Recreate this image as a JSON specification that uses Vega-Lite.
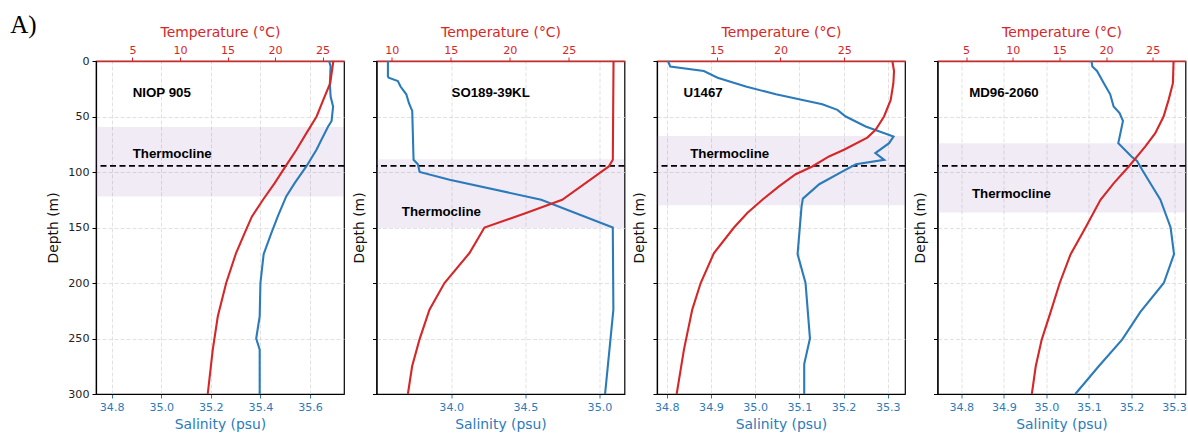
{
  "$schema": "https://vega.github.io/schema/vega-lite/v6.json",
  "padding": {"left": 10, "top": 13, "right": 0, "bottom": 0},
  "title": {"text": "A)", "anchor": "start", "frame": "bounds", "font": "Liberation Serif", "fontSize": 25, "fontWeight": "normal", "color": "black", "dx": -36, "offset": -14},
  "bounds": "flush",
  "spacing": 32.5,
  "datasets": {
    "bands": [
      {"site": "NIOP 905", "top": 59.5, "bottom": 122, "thermo": 94.5},
      {"site": "SO189-39KL", "top": 88.5, "bottom": 150.5, "thermo": 94.5},
      {"site": "U1467", "top": 67.5, "bottom": 130, "thermo": 94.5},
      {"site": "MD96-2060", "top": 74, "bottom": 136.5, "thermo": 94.5}
    ],
    "labels": [
      {"site": "NIOP 905", "label": "NIOP 905", "sal": 34.885, "depth": 29},
      {"site": "NIOP 905", "label": "Thermocline", "sal": 34.885, "depth": 84},
      {"site": "SO189-39KL", "label": "SO189-39KL", "sal": 34.002, "depth": 29},
      {"site": "SO189-39KL", "label": "Thermocline", "sal": 33.667, "depth": 136},
      {"site": "U1467", "label": "U1467", "sal": 34.838, "depth": 29},
      {"site": "U1467", "label": "Thermocline", "sal": 34.853, "depth": 84},
      {"site": "MD96-2060", "label": "MD96-2060", "sal": 34.8185, "depth": 29},
      {"site": "MD96-2060", "label": "Thermocline", "sal": 34.825, "depth": 120}
    ],
    "salinity": [
      {"site": "NIOP 905", "depth": 0, "sal": 35.677},
      {"site": "NIOP 905", "depth": 5, "sal": 35.683},
      {"site": "NIOP 905", "depth": 20, "sal": 35.68},
      {"site": "NIOP 905", "depth": 32, "sal": 35.683},
      {"site": "NIOP 905", "depth": 41, "sal": 35.693},
      {"site": "NIOP 905", "depth": 54, "sal": 35.687},
      {"site": "NIOP 905", "depth": 59, "sal": 35.673},
      {"site": "NIOP 905", "depth": 71, "sal": 35.646},
      {"site": "NIOP 905", "depth": 80, "sal": 35.626},
      {"site": "NIOP 905", "depth": 95, "sal": 35.585},
      {"site": "NIOP 905", "depth": 110, "sal": 35.538},
      {"site": "NIOP 905", "depth": 122, "sal": 35.504},
      {"site": "NIOP 905", "depth": 140, "sal": 35.47},
      {"site": "NIOP 905", "depth": 155, "sal": 35.444},
      {"site": "NIOP 905", "depth": 174, "sal": 35.413},
      {"site": "NIOP 905", "depth": 200, "sal": 35.4},
      {"site": "NIOP 905", "depth": 230, "sal": 35.397},
      {"site": "NIOP 905", "depth": 250, "sal": 35.383},
      {"site": "NIOP 905", "depth": 260, "sal": 35.397},
      {"site": "NIOP 905", "depth": 300, "sal": 35.397},
      {"site": "SO189-39KL", "depth": 0, "sal": 33.573},
      {"site": "SO189-39KL", "depth": 14, "sal": 33.573},
      {"site": "SO189-39KL", "depth": 15, "sal": 33.578},
      {"site": "SO189-39KL", "depth": 18, "sal": 33.64},
      {"site": "SO189-39KL", "depth": 23, "sal": 33.658},
      {"site": "SO189-39KL", "depth": 30, "sal": 33.697},
      {"site": "SO189-39KL", "depth": 38, "sal": 33.715},
      {"site": "SO189-39KL", "depth": 45, "sal": 33.737},
      {"site": "SO189-39KL", "depth": 89, "sal": 33.746},
      {"site": "SO189-39KL", "depth": 93, "sal": 33.775},
      {"site": "SO189-39KL", "depth": 100, "sal": 33.787},
      {"site": "SO189-39KL", "depth": 107, "sal": 33.989},
      {"site": "SO189-39KL", "depth": 125, "sal": 34.607},
      {"site": "SO189-39KL", "depth": 150, "sal": 35.09},
      {"site": "SO189-39KL", "depth": 224, "sal": 35.094},
      {"site": "SO189-39KL", "depth": 300, "sal": 35.038},
      {"site": "U1467", "depth": 0, "sal": 34.803},
      {"site": "U1467", "depth": 5, "sal": 34.808},
      {"site": "U1467", "depth": 9, "sal": 34.884},
      {"site": "U1467", "depth": 15, "sal": 34.915},
      {"site": "U1467", "depth": 23, "sal": 34.979},
      {"site": "U1467", "depth": 30, "sal": 35.047},
      {"site": "U1467", "depth": 39, "sal": 35.152},
      {"site": "U1467", "depth": 44, "sal": 35.186},
      {"site": "U1467", "depth": 50, "sal": 35.205},
      {"site": "U1467", "depth": 59, "sal": 35.25},
      {"site": "U1467", "depth": 68, "sal": 35.313},
      {"site": "U1467", "depth": 74, "sal": 35.303},
      {"site": "U1467", "depth": 83, "sal": 35.272},
      {"site": "U1467", "depth": 89, "sal": 35.292},
      {"site": "U1467", "depth": 93, "sal": 35.228},
      {"site": "U1467", "depth": 99, "sal": 35.2},
      {"site": "U1467", "depth": 111, "sal": 35.145},
      {"site": "U1467", "depth": 124, "sal": 35.108},
      {"site": "U1467", "depth": 131, "sal": 35.105},
      {"site": "U1467", "depth": 174, "sal": 35.096},
      {"site": "U1467", "depth": 200, "sal": 35.114},
      {"site": "U1467", "depth": 250, "sal": 35.124},
      {"site": "U1467", "depth": 273, "sal": 35.111},
      {"site": "U1467", "depth": 300, "sal": 35.111},
      {"site": "MD96-2060", "depth": 0, "sal": 35.106},
      {"site": "MD96-2060", "depth": 5, "sal": 35.108},
      {"site": "MD96-2060", "depth": 9, "sal": 35.119},
      {"site": "MD96-2060", "depth": 20, "sal": 35.135},
      {"site": "MD96-2060", "depth": 30, "sal": 35.15},
      {"site": "MD96-2060", "depth": 41, "sal": 35.158},
      {"site": "MD96-2060", "depth": 47, "sal": 35.172},
      {"site": "MD96-2060", "depth": 54, "sal": 35.18},
      {"site": "MD96-2060", "depth": 65, "sal": 35.174},
      {"site": "MD96-2060", "depth": 74, "sal": 35.169},
      {"site": "MD96-2060", "depth": 86, "sal": 35.2},
      {"site": "MD96-2060", "depth": 90, "sal": 35.213},
      {"site": "MD96-2060", "depth": 98, "sal": 35.225},
      {"site": "MD96-2060", "depth": 113, "sal": 35.249},
      {"site": "MD96-2060", "depth": 125, "sal": 35.268},
      {"site": "MD96-2060", "depth": 150, "sal": 35.292},
      {"site": "MD96-2060", "depth": 174, "sal": 35.3},
      {"site": "MD96-2060", "depth": 200, "sal": 35.276},
      {"site": "MD96-2060", "depth": 226, "sal": 35.221},
      {"site": "MD96-2060", "depth": 251, "sal": 35.178},
      {"site": "MD96-2060", "depth": 275, "sal": 35.123},
      {"site": "MD96-2060", "depth": 300, "sal": 35.068}
    ],
    "temperature": [
      {"site": "NIOP 905", "depth": 0, "temp": 26.13},
      {"site": "NIOP 905", "depth": 20, "temp": 25.8},
      {"site": "NIOP 905", "depth": 35, "temp": 25.07},
      {"site": "NIOP 905", "depth": 50, "temp": 24.37},
      {"site": "NIOP 905", "depth": 65, "temp": 23.3},
      {"site": "NIOP 905", "depth": 80, "temp": 22.25},
      {"site": "NIOP 905", "depth": 95, "temp": 21.1},
      {"site": "NIOP 905", "depth": 110, "temp": 19.96},
      {"site": "NIOP 905", "depth": 125, "temp": 18.73},
      {"site": "NIOP 905", "depth": 140, "temp": 17.57},
      {"site": "NIOP 905", "depth": 155, "temp": 16.8},
      {"site": "NIOP 905", "depth": 173, "temp": 15.9},
      {"site": "NIOP 905", "depth": 200, "temp": 14.86},
      {"site": "NIOP 905", "depth": 230, "temp": 13.98},
      {"site": "NIOP 905", "depth": 260, "temp": 13.45},
      {"site": "NIOP 905", "depth": 300, "temp": 12.92},
      {"site": "SO189-39KL", "depth": 0, "temp": 28.79},
      {"site": "SO189-39KL", "depth": 89, "temp": 28.73},
      {"site": "SO189-39KL", "depth": 95, "temp": 28.39},
      {"site": "SO189-39KL", "depth": 101, "temp": 27.6},
      {"site": "SO189-39KL", "depth": 125, "temp": 24.44},
      {"site": "SO189-39KL", "depth": 137, "temp": 21.38},
      {"site": "SO189-39KL", "depth": 150, "temp": 17.85},
      {"site": "SO189-39KL", "depth": 173, "temp": 16.58},
      {"site": "SO189-39KL", "depth": 200, "temp": 14.46},
      {"site": "SO189-39KL", "depth": 224, "temp": 13.19},
      {"site": "SO189-39KL", "depth": 251, "temp": 12.34},
      {"site": "SO189-39KL", "depth": 275, "temp": 11.72},
      {"site": "SO189-39KL", "depth": 300, "temp": 11.36},
      {"site": "U1467", "depth": 0, "temp": 28.76},
      {"site": "U1467", "depth": 9, "temp": 28.89},
      {"site": "U1467", "depth": 20, "temp": 28.84},
      {"site": "U1467", "depth": 35, "temp": 28.63},
      {"site": "U1467", "depth": 50, "temp": 28.11},
      {"site": "U1467", "depth": 62, "temp": 27.45},
      {"site": "U1467", "depth": 69, "temp": 26.8},
      {"site": "U1467", "depth": 80, "temp": 24.97},
      {"site": "U1467", "depth": 86, "temp": 23.8},
      {"site": "U1467", "depth": 95, "temp": 22.49},
      {"site": "U1467", "depth": 102, "temp": 21.19},
      {"site": "U1467", "depth": 113, "temp": 19.88},
      {"site": "U1467", "depth": 125, "temp": 18.58},
      {"site": "U1467", "depth": 137, "temp": 17.4},
      {"site": "U1467", "depth": 150, "temp": 16.36},
      {"site": "U1467", "depth": 173, "temp": 14.79},
      {"site": "U1467", "depth": 200, "temp": 13.75},
      {"site": "U1467", "depth": 224, "temp": 13.09},
      {"site": "U1467", "depth": 260, "temp": 12.44},
      {"site": "U1467", "depth": 300, "temp": 11.87},
      {"site": "MD96-2060", "depth": 0, "temp": 27.24},
      {"site": "MD96-2060", "depth": 20, "temp": 27.17},
      {"site": "MD96-2060", "depth": 35, "temp": 26.71},
      {"site": "MD96-2060", "depth": 50, "temp": 26.17},
      {"site": "MD96-2060", "depth": 65, "temp": 25.28},
      {"site": "MD96-2060", "depth": 77, "temp": 24.22},
      {"site": "MD96-2060", "depth": 95, "temp": 22.44},
      {"site": "MD96-2060", "depth": 110, "temp": 20.84},
      {"site": "MD96-2060", "depth": 125, "temp": 19.41},
      {"site": "MD96-2060", "depth": 150, "temp": 17.81},
      {"site": "MD96-2060", "depth": 174, "temp": 16.21},
      {"site": "MD96-2060", "depth": 200, "temp": 15.04},
      {"site": "MD96-2060", "depth": 226, "temp": 14.07},
      {"site": "MD96-2060", "depth": 251, "temp": 13.11},
      {"site": "MD96-2060", "depth": 275, "temp": 12.47},
      {"site": "MD96-2060", "depth": 300, "temp": 12.05}
    ]
  },
  "hconcat": [
    {
      "width": 248, "height": 333,
      "resolve": {"scale": {"x": "independent"}, "axis": {"x": "independent"}},
      "layer": [
        {
          "layer": [
            {"data": {"name": "bands"}, "transform": [{"filter": {"field": "site", "equal": "NIOP 905"}}],
             "mark": {"type": "rect", "fill": "#9467bd", "fillOpacity": 0.13},
             "encoding": {"y": {"field": "top", "type": "quantitative", "title": "Depth (m)", "scale": {"domain": [0, 300], "reverse": true, "nice": false},
                                "axis": {"values": [0, 50, 100, 150, 200, 250, 300], "labels": true, "titlePadding": 7}},
                          "y2": {"field": "bottom"}}},
            {"data": {"name": "bands"}, "transform": [{"filter": {"field": "site", "equal": "NIOP 905"}}],
             "mark": {"type": "rule", "color": "black", "strokeWidth": 1.8, "strokeDash": [6, 3.5]},
             "encoding": {"y": {"field": "thermo", "type": "quantitative", "title": "Depth (m)"}}},
            {"data": {"name": "salinity"}, "transform": [{"filter": {"field": "site", "equal": "NIOP 905"}}],
             "mark": {"type": "line", "color": "#2b7bba", "strokeWidth": 2.1},
             "encoding": {"x": {"field": "sal", "type": "quantitative", "title": "Salinity (psu)", "scale": {"domain": [34.737, 35.737], "nice": false, "zero": false},
                                "axis": {"orient": "bottom", "values": [34.8, 35.0, 35.2, 35.4, 35.6], "format": ".1f", "grid": true, "labelColor": "#2b7bba", "titleColor": "#2b7bba", "tickColor": "#2b7bba"}},
                          "y": {"field": "depth", "type": "quantitative", "title": "Depth (m)"},
                          "order": {"field": "depth"}}},
            {"data": {"name": "labels"}, "transform": [{"filter": {"field": "site", "equal": "NIOP 905"}}],
             "mark": {"type": "text", "font": "Liberation Sans", "fontWeight": "bold", "fontSize": 13.3, "align": "left", "baseline": "middle", "color": "black"},
             "encoding": {"x": {"field": "sal", "type": "quantitative", "title": "Salinity (psu)"},
                          "y": {"field": "depth", "type": "quantitative", "title": "Depth (m)"},
                          "text": {"field": "label"}}}
          ]
        },
        {"data": {"name": "temperature"}, "transform": [{"filter": {"field": "site", "equal": "NIOP 905"}}],
         "mark": {"type": "line", "color": "#d62728", "strokeWidth": 2.1},
         "encoding": {"x": {"field": "temp", "type": "quantitative", "title": "Temperature (°C)", "scale": {"domain": [1.17, 27.25], "nice": false, "zero": false},
                            "axis": {"orient": "top", "values": [5, 10, 15, 20, 25], "format": "d", "grid": false, "labelPadding": 2, "labelColor": "#d62728", "titleColor": "#d62728", "tickColor": "#d62728", "domainColor": "#d62728", "domainWidth": 1.6}},
                      "y": {"field": "depth", "type": "quantitative", "title": "Depth (m)"},
                      "order": {"field": "depth"}}}
      ]
    },
    {
      "width": 248, "height": 333,
      "resolve": {"scale": {"x": "independent"}, "axis": {"x": "independent"}},
      "layer": [
        {
          "layer": [
            {"data": {"name": "bands"}, "transform": [{"filter": {"field": "site", "equal": "SO189-39KL"}}],
             "mark": {"type": "rect", "fill": "#9467bd", "fillOpacity": 0.13},
             "encoding": {"y": {"field": "top", "type": "quantitative", "title": "Depth (m)", "scale": {"domain": [0, 300], "reverse": true, "nice": false},
                                "axis": {"values": [0, 50, 100, 150, 200, 250, 300], "labels": false, "titlePadding": 6}},
                          "y2": {"field": "bottom"}}},
            {"data": {"name": "bands"}, "transform": [{"filter": {"field": "site", "equal": "SO189-39KL"}}],
             "mark": {"type": "rule", "color": "black", "strokeWidth": 1.8, "strokeDash": [6, 3.5]},
             "encoding": {"y": {"field": "thermo", "type": "quantitative", "title": "Depth (m)"}}},
            {"data": {"name": "salinity"}, "transform": [{"filter": {"field": "site", "equal": "SO189-39KL"}}],
             "mark": {"type": "line", "color": "#2b7bba", "strokeWidth": 2.1},
             "encoding": {"x": {"field": "sal", "type": "quantitative", "title": "Salinity (psu)", "scale": {"domain": [33.496, 35.169], "nice": false, "zero": false},
                                "axis": {"orient": "bottom", "values": [34.0, 34.5, 35.0], "format": ".1f", "grid": true, "labelColor": "#2b7bba", "titleColor": "#2b7bba", "tickColor": "#2b7bba"}},
                          "y": {"field": "depth", "type": "quantitative", "title": "Depth (m)"},
                          "order": {"field": "depth"}}},
            {"data": {"name": "labels"}, "transform": [{"filter": {"field": "site", "equal": "SO189-39KL"}}],
             "mark": {"type": "text", "font": "Liberation Sans", "fontWeight": "bold", "fontSize": 13.3, "align": "left", "baseline": "middle", "color": "black"},
             "encoding": {"x": {"field": "sal", "type": "quantitative", "title": "Salinity (psu)"},
                          "y": {"field": "depth", "type": "quantitative", "title": "Depth (m)"},
                          "text": {"field": "label"}}}
          ]
        },
        {"data": {"name": "temperature"}, "transform": [{"filter": {"field": "site", "equal": "SO189-39KL"}}],
         "mark": {"type": "line", "color": "#d62728", "strokeWidth": 2.1},
         "encoding": {"x": {"field": "temp", "type": "quantitative", "title": "Temperature (°C)", "scale": {"domain": [8.7, 29.72], "nice": false, "zero": false},
                            "axis": {"orient": "top", "values": [10, 15, 20, 25], "format": "d", "grid": false, "labelPadding": 2, "labelColor": "#d62728", "titleColor": "#d62728", "tickColor": "#d62728", "domainColor": "#d62728", "domainWidth": 1.6}},
                      "y": {"field": "depth", "type": "quantitative", "title": "Depth (m)"},
                      "order": {"field": "depth"}}}
      ]
    },
    {
      "width": 248, "height": 333,
      "resolve": {"scale": {"x": "independent"}, "axis": {"x": "independent"}},
      "layer": [
        {
          "layer": [
            {"data": {"name": "bands"}, "transform": [{"filter": {"field": "site", "equal": "U1467"}}],
             "mark": {"type": "rect", "fill": "#9467bd", "fillOpacity": 0.13},
             "encoding": {"y": {"field": "top", "type": "quantitative", "title": "Depth (m)", "scale": {"domain": [0, 300], "reverse": true, "nice": false},
                                "axis": {"values": [0, 50, 100, 150, 200, 250, 300], "labels": false, "titlePadding": 6}},
                          "y2": {"field": "bottom"}}},
            {"data": {"name": "bands"}, "transform": [{"filter": {"field": "site", "equal": "U1467"}}],
             "mark": {"type": "rule", "color": "black", "strokeWidth": 1.8, "strokeDash": [6, 3.5]},
             "encoding": {"y": {"field": "thermo", "type": "quantitative", "title": "Depth (m)"}}},
            {"data": {"name": "salinity"}, "transform": [{"filter": {"field": "site", "equal": "U1467"}}],
             "mark": {"type": "line", "color": "#2b7bba", "strokeWidth": 2.1},
             "encoding": {"x": {"field": "sal", "type": "quantitative", "title": "Salinity (psu)", "scale": {"domain": [34.778, 35.339], "nice": false, "zero": false},
                                "axis": {"orient": "bottom", "values": [34.8, 34.9, 35.0, 35.1, 35.2, 35.3], "format": ".1f", "grid": true, "labelColor": "#2b7bba", "titleColor": "#2b7bba", "tickColor": "#2b7bba"}},
                          "y": {"field": "depth", "type": "quantitative", "title": "Depth (m)"},
                          "order": {"field": "depth"}}},
            {"data": {"name": "labels"}, "transform": [{"filter": {"field": "site", "equal": "U1467"}}],
             "mark": {"type": "text", "font": "Liberation Sans", "fontWeight": "bold", "fontSize": 13.3, "align": "left", "baseline": "middle", "color": "black"},
             "encoding": {"x": {"field": "sal", "type": "quantitative", "title": "Salinity (psu)"},
                          "y": {"field": "depth", "type": "quantitative", "title": "Depth (m)"},
                          "text": {"field": "label"}}}
          ]
        },
        {"data": {"name": "temperature"}, "transform": [{"filter": {"field": "site", "equal": "U1467"}}],
         "mark": {"type": "line", "color": "#d62728", "strokeWidth": 2.1},
         "encoding": {"x": {"field": "temp", "type": "quantitative", "title": "Temperature (°C)", "scale": {"domain": [10.33, 29.75], "nice": false, "zero": false},
                            "axis": {"orient": "top", "values": [15, 20, 25], "format": "d", "grid": false, "labelPadding": 2, "labelColor": "#d62728", "titleColor": "#d62728", "tickColor": "#d62728", "domainColor": "#d62728", "domainWidth": 1.6}},
                      "y": {"field": "depth", "type": "quantitative", "title": "Depth (m)"},
                      "order": {"field": "depth"}}}
      ]
    },
    {
      "width": 248, "height": 333,
      "resolve": {"scale": {"x": "independent"}, "axis": {"x": "independent"}},
      "layer": [
        {
          "layer": [
            {"data": {"name": "bands"}, "transform": [{"filter": {"field": "site", "equal": "MD96-2060"}}],
             "mark": {"type": "rect", "fill": "#9467bd", "fillOpacity": 0.13},
             "encoding": {"y": {"field": "top", "type": "quantitative", "title": "Depth (m)", "scale": {"domain": [0, 300], "reverse": true, "nice": false},
                                "axis": {"values": [0, 50, 100, 150, 200, 250, 300], "labels": false, "titlePadding": 6}},
                          "y2": {"field": "bottom"}}},
            {"data": {"name": "bands"}, "transform": [{"filter": {"field": "site", "equal": "MD96-2060"}}],
             "mark": {"type": "rule", "color": "black", "strokeWidth": 1.8, "strokeDash": [6, 3.5]},
             "encoding": {"y": {"field": "thermo", "type": "quantitative", "title": "Depth (m)"}}},
            {"data": {"name": "salinity"}, "transform": [{"filter": {"field": "site", "equal": "MD96-2060"}}],
             "mark": {"type": "line", "color": "#2b7bba", "strokeWidth": 2.1},
             "encoding": {"x": {"field": "sal", "type": "quantitative", "title": "Salinity (psu)", "scale": {"domain": [34.744, 35.327], "nice": false, "zero": false},
                                "axis": {"orient": "bottom", "values": [34.8, 34.9, 35.0, 35.1, 35.2, 35.3], "format": ".1f", "grid": true, "labelColor": "#2b7bba", "titleColor": "#2b7bba", "tickColor": "#2b7bba"}},
                          "y": {"field": "depth", "type": "quantitative", "title": "Depth (m)"},
                          "order": {"field": "depth"}}},
            {"data": {"name": "labels"}, "transform": [{"filter": {"field": "site", "equal": "MD96-2060"}}],
             "mark": {"type": "text", "font": "Liberation Sans", "fontWeight": "bold", "fontSize": 13.3, "align": "left", "baseline": "middle", "color": "black"},
             "encoding": {"x": {"field": "sal", "type": "quantitative", "title": "Salinity (psu)"},
                          "y": {"field": "depth", "type": "quantitative", "title": "Depth (m)"},
                          "text": {"field": "label"}}}
          ]
        },
        {"data": {"name": "temperature"}, "transform": [{"filter": {"field": "site", "equal": "MD96-2060"}}],
         "mark": {"type": "line", "color": "#d62728", "strokeWidth": 2.1},
         "encoding": {"x": {"field": "temp", "type": "quantitative", "title": "Temperature (°C)", "scale": {"domain": [1.94, 28.52], "nice": false, "zero": false},
                            "axis": {"orient": "top", "values": [5, 10, 15, 20, 25], "format": "d", "grid": false, "labelPadding": 2, "labelColor": "#d62728", "titleColor": "#d62728", "tickColor": "#d62728", "domainColor": "#d62728", "domainWidth": 1.6}},
                      "y": {"field": "depth", "type": "quantitative", "title": "Depth (m)"},
                      "order": {"field": "depth"}}}
      ]
    }
  ],
  "config": {
    "font": "DejaVu Sans",
    "view": {"stroke": "black", "strokeWidth": 1.2},
    "axis": {
      "labelFont": "DejaVu Sans", "titleFont": "DejaVu Sans",
      "labelFontSize": 11.1, "titleFontSize": 13.9, "titleFontWeight": "normal",
      "labelColor": "#222222", "titleColor": "#111111",
      "tickSize": 4, "tickWidth": 1, "tickColor": "black", "labelPadding": 3,
      "domainColor": "black", "domainWidth": 1.2,
      "grid": true, "gridColor": "#d9d9d9", "gridDash": [4, 2], "gridWidth": 0.8,
      "titlePadding": 5
    }
  }
}
